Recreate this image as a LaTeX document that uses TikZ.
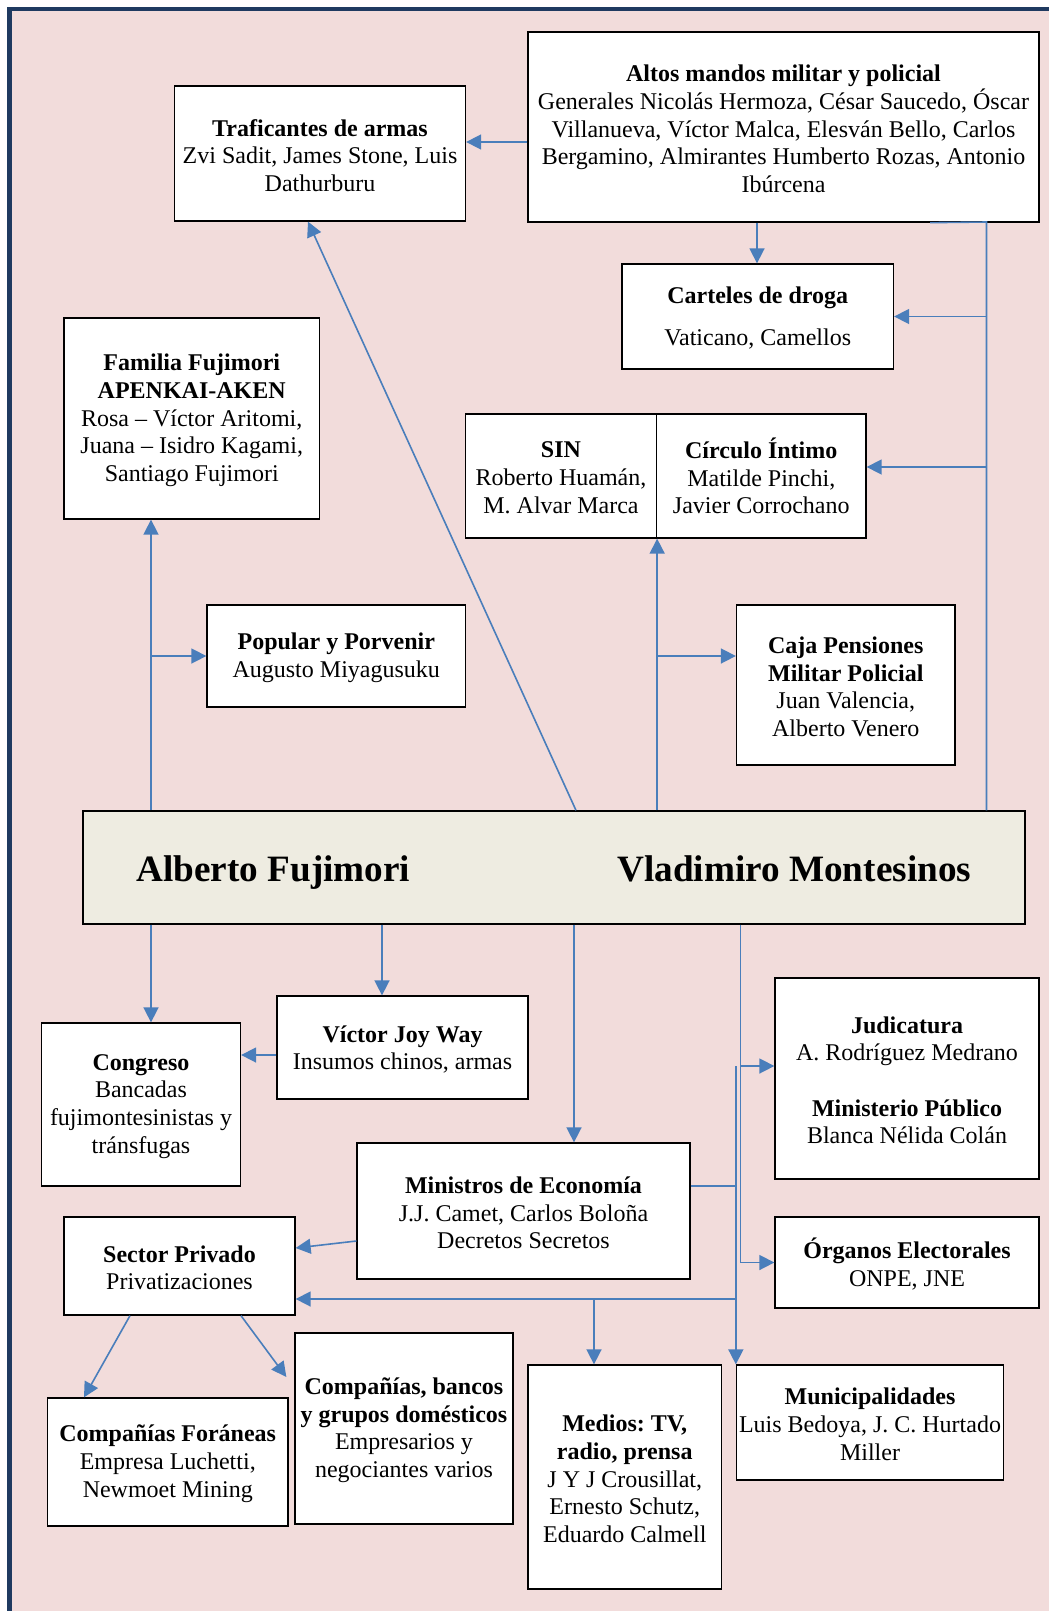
\documentclass[tikz,border=0pt]{standalone}
\usepackage{fontspec}
\setmainfont{Liberation Serif}
\frenchspacing
\usetikzlibrary{positioning}
\usetikzlibrary{fit}
\usetikzlibrary{arrows.meta}
\usetikzlibrary{calc}
\definecolor{fondo}{HTML}{F2DCDB}
\definecolor{marco}{HTML}{1F3A60}
\definecolor{flecha}{HTML}{4A7EBB}
\definecolor{centro}{HTML}{EEECE1}
\newcommand{\hd}[1]{\textbf{#1}}
\tikzset{cuadro/.style={draw=black, line width=0.65pt, fill=white, inner sep=0pt}}
\tikzset{texto/.style={inner sep=0pt, align=center, yshift=-0.9pt, font=\fontsize{12}{13.8}\selectfont}}
\tikzset{fl/.style={draw=flecha, line width=0.8pt}}
\tikzset{>={Triangle[length=7.5pt,width=7.5pt]}}
\tikzset{titulo/.style={anchor=base west, inner sep=0pt, font=\fontsize{18.6}{22}\selectfont\bfseries}}

\begin{document}
\begin{tikzpicture}[x=0.5pt, y=-0.5pt]
    \useasboundingbox (0,0) rectangle (1049,1611);
    \fill[white] (0,0) rectangle (1049,1611);
    \begin{scope}
      \clip (0,0) rectangle (1049,1611);
      \draw[marco, line width=2.25pt, fill=fondo] (9.5,9) rectangle (1080,1640);
    \end{scope}

    % arriba
    \node[cuadro, fit={(174.5,86) (465.5,221)}] (traf) {};
    \node[texto] (traf-t) at (traf) {\hd{Traficantes de armas}\\Zvi Sadit, James Stone, Luis\\Dathurburu};
    \node[cuadro, fit={(528,32) (1039,222)}] (altos) {};
    \node[texto] (altos-t) at (altos) {\hd{Altos mandos militar y policial}\\Generales Nicolás Hermoza, César Saucedo, Óscar\\Villanueva, Víctor Malca, Elesván Bello, Carlos\\Bergamino, Almirantes Humberto Rozas, Antonio\\Ibúrcena};
    \node[cuadro, fit={(622,264) (893.5,369)}] (cart) {};
    \node[texto] (cart-t) at (cart) {\hd{Carteles de droga}\\[7pt]Vaticano, Camellos};
    \node[cuadro, fit={(64,318) (319.5,519)}] (fam) {};
    \node[texto] (fam-t) at (fam) {\hd{Familia Fujimori}\\\hd{APENKAI-AKEN}\\Rosa – Víctor Aritomi,\\Juana – Isidro Kagami,\\Santiago Fujimori};
    \node[cuadro, fit={(465.5,414) (656.5,538)}] (sin) {};
    \node[texto] (sin-t) at (sin) {\hd{SIN}\\Roberto Huamán,\\M. Alvar Marca};
    \node[cuadro, fit={(656.5,414) (866,538)}] (circ) {};
    \node[texto] (circ-t) at (circ) {\hd{Círculo \smash{Í}ntimo}\\Matilde Pinchi,\\Javier Corrochano};
    \node[cuadro, fit={(207,605) (465.5,707)}] (pop) {};
    \node[texto] (pop-t) at (pop) {\hd{Popular y Porvenir}\\Augusto Miyagusuku};
    \node[cuadro, fit={(736.5,605) (955,765)}] (pens) {};
    \node[texto] (pens-t) at (pens) {\hd{Caja Pensiones}\\\hd{Militar Policial}\\Juan Valencia,\\Alberto Venero};

    % centro
    \node[cuadro, fill=centro, fit={(83,811) (1025,924)}] (main) {};
    \node[titulo] (af) at (136,881) {Alberto Fujimori};
    \node[titulo] (vm) at (617,881) {Vladimiro Montesinos};

    % abajo
    \node[cuadro, fit={(277,996) (528,1099)}] (joy) {};
    \node[texto] (joy-t) at (joy) {\hd{Víctor Joy Way}\\Insumos chinos, armas};
    \node[cuadro, fit={(41.5,1023) (240.5,1186)}] (cong) {};
    \node[texto] (cong-t) at (cong) {\hd{Congreso}\\Bancadas\\fujimontesinistas y\\tránsfugas};
    \node[cuadro, fit={(775,978) (1039,1179)}] (jud) {};
    \node[texto] (jud-t) at (jud) {\hd{Judicatura}\\A. Rodríguez Medrano\\[13.8pt]\hd{Ministerio Público}\\Blanca Nélida Colán};
    \node[cuadro, fit={(357,1143) (690,1279)}] (mins) {};
    \node[texto] (mins-t) at (mins) {\hd{Ministros de Economía}\\J.J. Camet, Carlos Boloña\\Decretos Secretos};
    \node[cuadro, fit={(64,1217) (295,1315)}] (sect) {};
    \node[texto] (sect-t) at (sect) {\hd{Sector Privado}\\Privatizaciones};
    \node[cuadro, fit={(775,1217) (1039,1308)}] (org) {};
    \node[texto] (org-t) at (org) {\hd{Órganos Electorales}\\ONPE, JNE};
    \node[cuadro, fit={(47.5,1398) (288,1526)}] (forn) {};
    \node[texto] (forn-t) at (forn) {\hd{Compañías Foráneas}\\Empresa Luchetti,\\Newmoet Mining};
    \node[cuadro, fit={(295,1333) (513,1524)}] (banc) {};
    \node[texto] (banc-t) at (banc) {\hd{Compañías, bancos}\\\hd{y grupos domésticos}\\Empresarios y\\negociantes varios};
    \node[cuadro, fit={(528,1365) (721.5,1589)}] (medi) {};
    \node[texto] (medi-t) at (medi) {\hd{Medios: TV,}\\\hd{radio, prensa}\\J Y J Crousillat,\\Ernesto Schutz,\\Eduardo Calmell};
    \node[cuadro, fit={(736.5,1365) (1003.5,1480)}] (muni) {};
    \node[texto] (muni-t) at (muni) {\hd{Municipalidades}\\Luis Bedoya, J. C. Hurtado\\Miller};

    \coordinate (esq) at (986.5,222);
    \coordinate (bif) at (594,1299);

    % conexiones de arriba
    \draw[fl,->] (altos.west |- 0,142) -- (traf.east |- 0,142);
    \draw[fl,->] (altos.south -| 757,0) -- (cart.north -| 757,0);
    \draw[fl] (altos.south -| 930,0) -- (esq) -- (esq |- main.north);
    \draw[fl,->] (esq |- cart.east) -- (cart.east);
    \draw[fl,->] (esq |- 0,467) -- (circ.east |- 0,467);
    \draw[fl,->] (main.north -| 576,0) -- (traf.south -| 308,0);
    \draw[fl,->] (sin.south east |- main.north) -- (sin.south east);
    \draw[fl,->] (sin.south east |- pop.east) -- (pens.west |- pop.east);
    \draw[fl,->] (main.north -| 151,0) -- (fam.south -| 151,0);
    \draw[fl,->] (pop.west -| 151,0) -- (pop.west);

    % conexiones de abajo
    \draw[fl,->] (main.south -| 151,0) -- (cong.north -| 151,0);
    \draw[fl,->] (main.south -| 382,0) -- (joy.north -| 382,0);
    \draw[fl,->] (joy.west |- 0,1055) -- (cong.east |- 0,1055);
    \draw[fl,->] (main.south -| 574,0) -- (mins.north -| 574,0);
    \draw[fl,->] (main.south -| 740.5,0) |- (org.west);
    \draw[fl,->] (main.south -| 740.5,0) |- (jud.west |- 0,1066);
    \draw[fl,->] (muni.north west |- 0,1066) -- (muni.north west);
    \draw[fl] (mins.east |- 0,1186) -- (muni.north west |- 0,1186);
    \draw[fl,->] (muni.north west |- bif) -- (sect.east |- bif);
    \draw[fl,->] (bif) -- (medi.north -| bif);
    \draw[fl,->] (mins.west |- 0,1241) -- (sect.east |- 0,1248);
    \draw[fl,->] (sect.south -| 130,0) -- (forn.north -| 84,0);
    \draw[fl,->] (sect.south -| 241,0) -- ([xshift=-4pt]banc.west |- 0,1377);
\end{tikzpicture}
\end{document}
